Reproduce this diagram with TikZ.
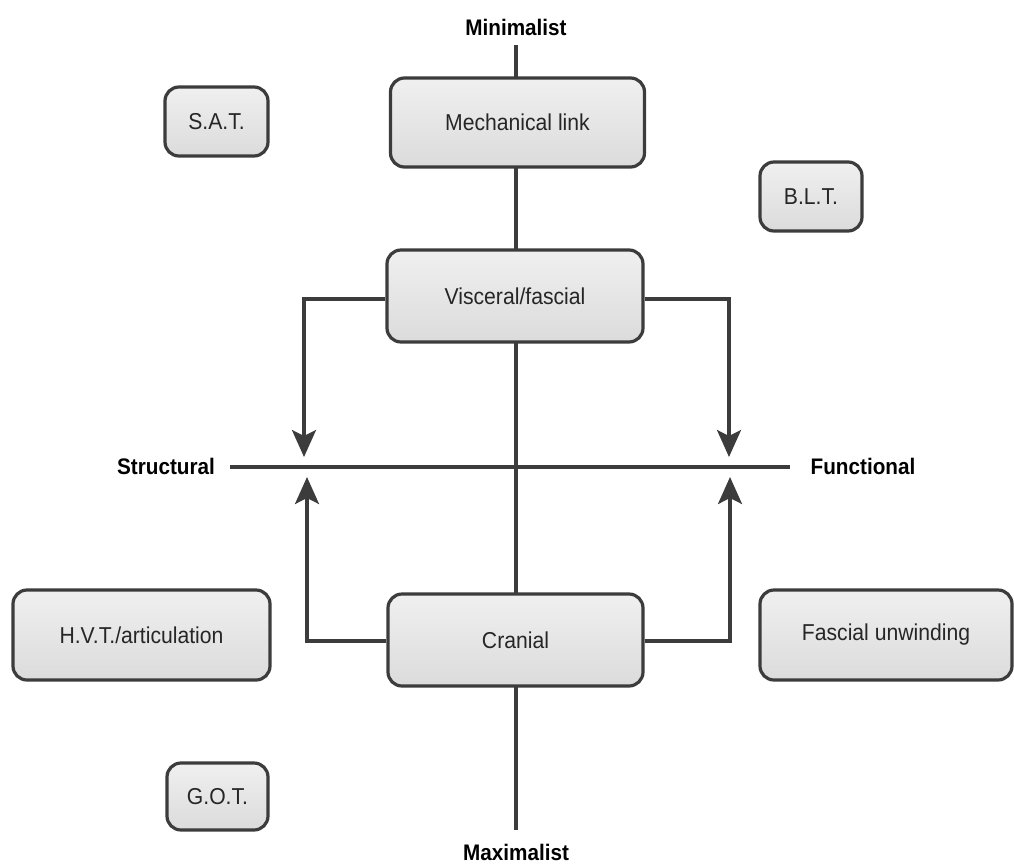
\documentclass[tikz,border=0pt]{standalone}
\usepackage{fontspec}
\setmainfont{Liberation Sans}
\newfontfamily\condfont[FakeStretch=0.92]{Liberation Sans}
\usetikzlibrary{arrows.meta}
\definecolor{edge}{HTML}{3C3C3C}
\tikzset{
  box/.style={draw=edge, line width=3.2pt, rounded corners=14pt, top color=white!94!black, bottom color=white!86!black, font=\condfont\fontsize{23}{25}\selectfont, text=black!85, inner sep=0pt},
  axis/.style={font=\condfont\bfseries\fontsize{22.5}{25}\selectfont, inner sep=2pt},
  link/.style={draw=edge, line width=3.2pt},
  arr/.style={link, -{Stealth[length=27pt, width=24pt, inset=6pt]}}
}
\begin{document}
\begin{tikzpicture}[x=1pt, y=-1pt]
\useasboundingbox (0,0) rectangle (1014,865);
% axis labels
\node[axis] (min) at (516,27) {Minimalist};
\node[axis] (max) at (516,852) {Maximalist};
\node[axis] (str) at (166,466) {Structural};
\node[axis] (fun) at (863,466) {Functional};
\coordinate (vtop) at (516,45);
\coordinate (vbot) at (516,830);
\coordinate (hl) at (230,467);
\coordinate (hr) at (790,467);
\draw[link] (vtop) -- (vbot);
\draw[link] (hl) -- (hr);
% boxes
\node[box, minimum width=254pt, minimum height=89pt] (mech) at (517.5,122.5) {Mechanical link};
\node[box, minimum width=256pt, minimum height=92pt] (visc) at (515,296) {Visceral/fascial};
\node[box, minimum width=255pt, minimum height=92pt] (cran) at (515.5,640) {Cranial};
\node[box, minimum width=103pt, minimum height=69pt] (sat) at (216.5,121.5) {S.A.T.};
\node[box, minimum width=102pt, minimum height=69pt] (blt) at (811,196.5) {B.L.T.};
\node[box, minimum width=257pt, minimum height=90pt] (hvt) at (141.5,635) {H.V.T./articulation};
\node[box, minimum width=252pt, minimum height=90pt] (fu) at (886,635) {Fascial unwinding};
\node[box, minimum width=101pt, minimum height=67pt] (got) at (217.5,796.5) {G.O.T.};
% arrows
\coordinate (tl) at (304,457);
\coordinate (tr) at (729,457);
\coordinate (bl) at (307,477);
\coordinate (br) at (730,477);
\draw[arr] (visc.west |- 0,299) -| (tl);
\draw[arr] (visc.east |- 0,299) -| (tr);
\draw[arr] (cran.west |- 0,641) -| (bl);
\draw[arr] (cran.east |- 0,641) -| (br);
\end{tikzpicture}
\end{document}
